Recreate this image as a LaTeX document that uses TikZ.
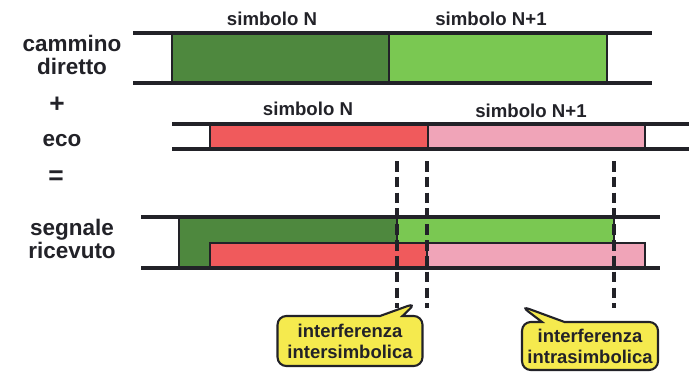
\documentclass[tikz,border=0pt]{standalone}
\usepackage{fontspec}
\setmainfont{Liberation Sans}
\usetikzlibrary{shapes.callouts}

\definecolor{directdark}{RGB}{78,136,62}
\definecolor{directlight}{RGB}{122,200,82}
\definecolor{echodark}{RGB}{240,90,92}
\definecolor{echolight}{RGB}{240,164,184}
\definecolor{noteyellow}{RGB}{245,234,78}
\definecolor{ink}{RGB}{34,34,40}

\begin{document}
\begin{tikzpicture}[x=0.02cm, y=-0.02cm,
  rowlabel/.style={text=ink, font=\bfseries\fontsize{12.8}{13.6}\selectfont, align=center},
  symlabel/.style={text=ink, font=\bfseries\fontsize{10.6}{12}\selectfont},
  rail/.style={draw=ink, line width=2.2pt},
  bar/.style={draw=ink, line width=1pt},
  marker/.style={draw=ink, line width=2pt, dash pattern=on 6pt off 3pt},
  note/.style={rectangle callout, draw=ink, line width=1.2pt, rounded corners=5pt,
    fill=noteyellow, text=ink, align=center, inner sep=3pt,
    font=\bfseries\fontsize{10.5}{12}\selectfont, callout pointer width=0.45cm}]
  \useasboundingbox (0,0) rectangle (689,372);

  % labels on the left
  \node[rowlabel] (direct) at (72,55) {cammino\\diretto};
  \node[rowlabel, font=\bfseries\fontsize{15}{16}\selectfont] (plus) at (57,105) {+};
  \node[rowlabel] (echo) at (62,141) {eco};
  \node[rowlabel, font=\bfseries\fontsize{15}{16}\selectfont] (equals) at (56,178) {=};
  \node[rowlabel] (received) at (72,239) {segnale\\ricevuto};

  % direct path
  \draw[bar, fill=directdark] (172,33) rectangle (389,83);
  \draw[bar, fill=directlight] (389,33) rectangle (607,83);
  \draw[rail] (133,33) -- (652,33);
  \draw[rail] (133,83) -- (652,83);
  \node[symlabel] (symA) at (272,19) {simbolo N};
  \node[symlabel] (symB) at (491,19) {simbolo N+1};

  % echo
  \draw[bar, fill=echodark] (210,124) rectangle (428,149);
  \draw[bar, fill=echolight] (428,124) rectangle (645,149);
  \draw[rail] (172,124) -- (689,124);
  \draw[rail] (172,149) -- (689,149);
  \node[symlabel] (symC) at (308,109) {simbolo N};
  \node[symlabel] (symD) at (531,111) {simbolo N+1};

  % received signal
  \draw[bar, fill=directdark] (179,217) rectangle (397,268);
  \draw[bar, fill=directlight] (397,217) rectangle (614,268);
  \draw[bar, fill=echodark] (210,243) rectangle (427,268);
  \draw[bar, fill=echolight] (427,243) rectangle (645,268);
  \draw[rail] (141,217) -- (660,217);
  \draw[rail] (141,268) -- (660,268);

  % symbol boundaries
  \foreach \x in {397,427,614}
    \draw[marker] (\x,161) -- (\x,308);

  \coordinate (tipA) at (416,303);
  \coordinate (tipB) at (521,306);
  \node[note, minimum width=2.9cm, minimum height=1cm, callout absolute pointer=(tipA)] (inter) at (350,341) {interferenza\\intersimbolica};
  \node[note, minimum width=2.72cm, minimum height=0.96cm, callout absolute pointer=(tipB)] (intra) at (590,346) {interferenza\\intrasimbolica};
\end{tikzpicture}
\end{document}
